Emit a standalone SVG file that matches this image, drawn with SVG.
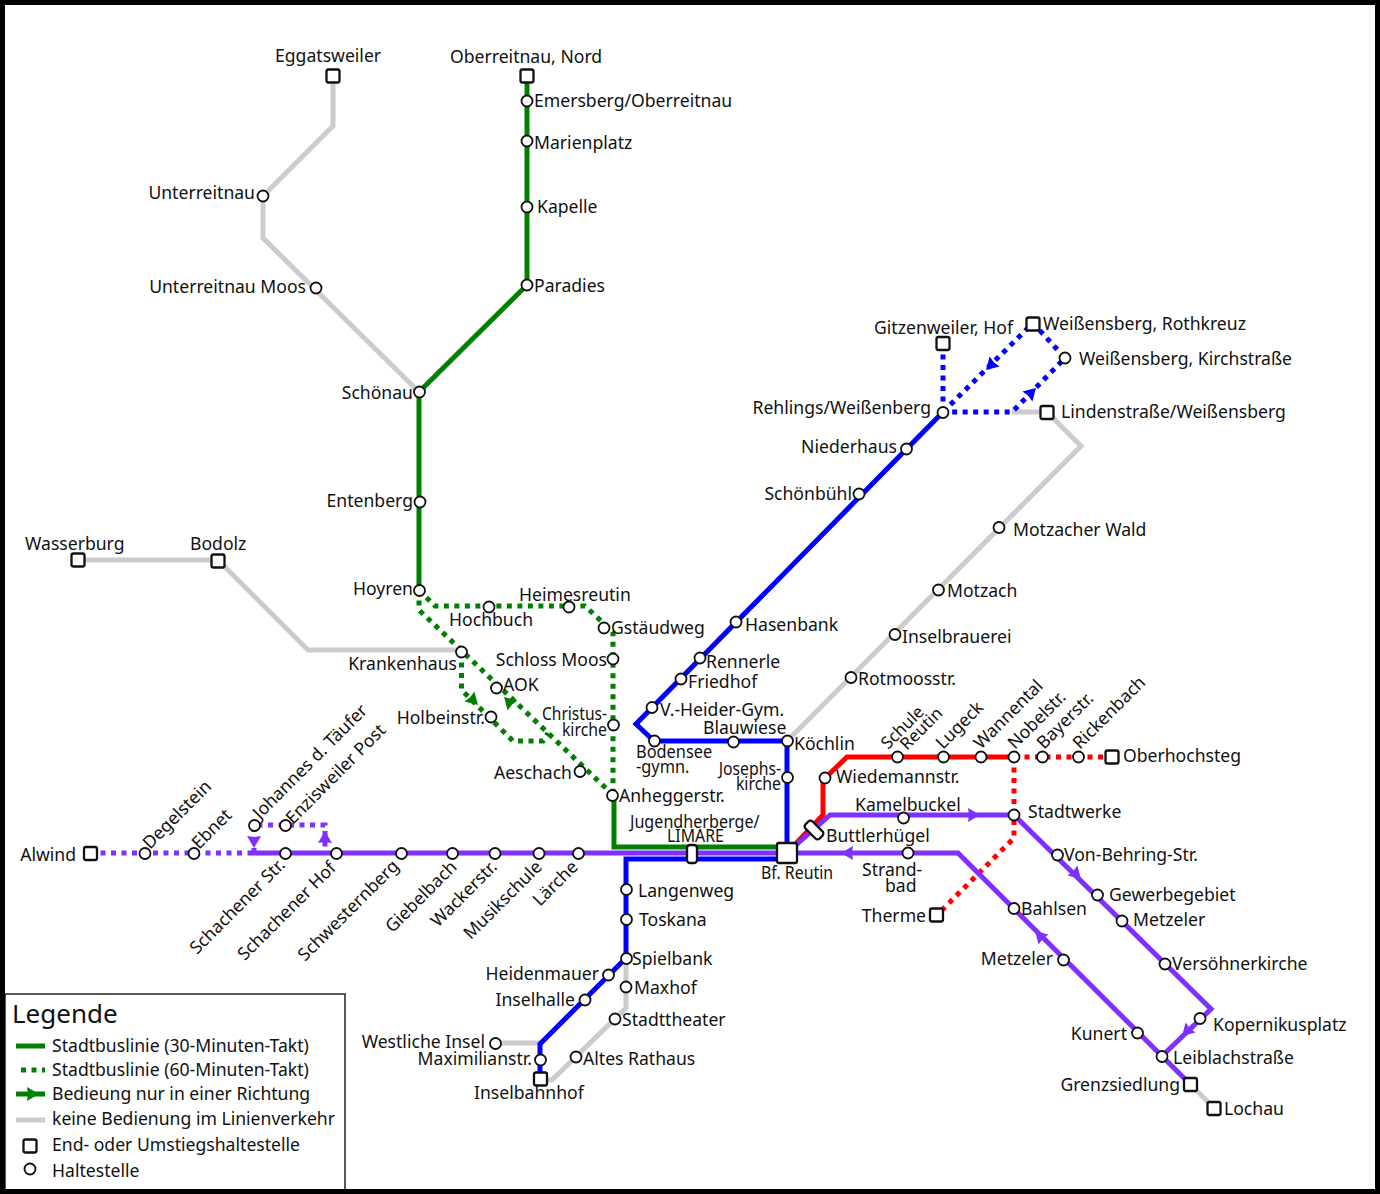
<svg xmlns="http://www.w3.org/2000/svg" width="1380" height="1194" viewBox="0 0 1380 1194">
<style>
text{font-family:"Noto Sans","Open Sans",sans-serif;font-size:17.6px;fill:#111}
text.t{font-size:17px}
.e{text-anchor:end}
.l{fill:none;stroke-width:5;stroke-linejoin:miter}
.d{stroke-dasharray:5 5.5}
.gr{stroke:#008000}.bl{stroke:#0000ff}.re{stroke:#ff0000}.pu{stroke:#7f2fff}.gy{stroke:#cccccc}
.s{fill:#fff;stroke:#111;stroke-width:1.8}
.q{fill:#fff;stroke:#111;stroke-width:2.3}
</style>
<defs>
<path id="a" d="M7 0L-5 -7L-4 0L-5 7Z"/>
<circle id="c" r="5.500" class="s"/>
<rect id="b" x="-6.500" y="-6.500" width="13" height="13" rx="2" class="q"/>
</defs>
<rect width="1380" height="1194" fill="#fff"/>
<g id="connectors">
<path class="l gy" d="M333 76V126L263 196V238L419 392"/>
<path class="l gy" d="M78 560H218L308 650H461"/>
<path class="l gy" d="M1012 412H1047L1081 446L787 741"/>
<path class="l gy" d="M626 958V1008L552 1080H540"/>
<path class="l gy" d="M495 1043H540"/>
<path class="l gy" d="M1190 1084L1214 1108"/>
<path class="l gr" d="M527 76V285L419 392V590"/>
<path class="l gr" d="M614 795V847H787"/>
<path class="l gr d" d="M419 590L435 606H585L613 632V795"/>
<path class="l gr d" d="M419 590V610L613 795"/>
<path class="l gr d" d="M461.500 652V690L513 741H543L548 733"/>
<path class="l bl" d="M787 853V741H654L636 724L943 412"/>
<path class="l bl" d="M787 859H626V958L540 1044V1079"/>
<path class="l bl d" d="M943 412V343"/>
<path class="l bl d" d="M943 412L1033 323L1065 358L1012 412H943"/>
<path class="l re" d="M787 853L823 815V780L847 757H1014"/>
<path class="l re d" d="M1014 757H1112"/>
<path class="l re d" d="M1014 757V838L937 915"/>
<path class="l pu" d="M252 853H958L1190 1084"/>
<path class="l pu" d="M787 853L830 815H1014L1211 1009L1162 1056"/>
<path class="l pu d" d="M90 853H252"/>
<path class="l pu d" d="M254 853V825H325V853"/>
<g id="arrows">
<use href="#a" fill="#008000" transform="translate(473 700) rotate(45)"/>
<use href="#a" fill="#008000" transform="translate(509 702) rotate(-135)"/>
<use href="#a" fill="#0000ff" transform="translate(991 365) rotate(135)"/>
<use href="#a" fill="#0000ff" transform="translate(1031 393) rotate(-45)"/>
<use href="#a" fill="#7f2fff" transform="translate(254 841) rotate(90)"/>
<use href="#a" fill="#7f2fff" transform="translate(325 838) rotate(-90)"/>
<use href="#a" fill="#7f2fff" transform="translate(973 815)"/>
<use href="#a" fill="#7f2fff" transform="translate(848 853) rotate(180)"/>
<use href="#a" fill="#7f2fff" transform="translate(1076 874) rotate(45)"/>
<use href="#a" fill="#7f2fff" transform="translate(1040 936) rotate(-135)"/>
<use href="#a" fill="#7f2fff" transform="translate(1187 1031) rotate(135)"/>
</g>
</g>
<g id="n-eggatsweiler"><use href="#b" x="333" y="76"/><text x="275" y="62">Eggatsweiler</text></g>
<g id="n-oberreitnau-nord"><use href="#b" x="527" y="76"/><text x="450" y="63">Oberreitnau, Nord</text></g>
<g id="n-emersberg"><use href="#c" x="527" y="101"/><text x="534" y="107">Emersberg/Oberreitnau</text></g>
<g id="n-marienplatz"><use href="#c" x="527" y="141"/><text x="534" y="149">Marienplatz</text></g>
<g id="n-kapelle"><use href="#c" x="527" y="207"/><text x="537" y="213">Kapelle</text></g>
<g id="n-paradies"><use href="#c" x="527" y="285"/><text x="534" y="292">Paradies</text></g>
<g id="n-unterreitnau"><use href="#c" x="263" y="196"/><text class="e" x="255" y="199">Unterreitnau</text></g>
<g id="n-unterreitnau-moos"><use href="#c" x="316" y="288"/><text class="e" x="306" y="293">Unterreitnau Moos</text></g>
<g id="n-schoenau"><use href="#c" x="419.500" y="392"/><text class="e" x="413" y="399">Schönau</text></g>
<g id="n-entenberg"><use href="#c" x="420" y="502"/><text class="e" x="413" y="507">Entenberg</text></g>
<g id="n-hoyren"><use href="#c" x="419.500" y="590.500"/><text class="e" x="413" y="595">Hoyren</text></g>
<g id="n-wasserburg"><use href="#b" x="78" y="560"/><text x="25" y="550">Wasserburg</text></g>
<g id="n-bodolz"><use href="#b" x="218" y="561"/><text x="190" y="550">Bodolz</text></g>
<g id="n-krankenhaus"><use href="#c" x="461.500" y="652"/><text class="e" x="457" y="670">Krankenhaus</text></g>
<g id="n-hochbuch"><use href="#c" x="489" y="607"/><text x="449" y="626">Hochbuch</text></g>
<g id="n-heimesreutin"><use href="#c" x="569" y="607"/><text x="519" y="601">Heimesreutin</text></g>
<g id="n-gstaeudweg"><use href="#c" x="604" y="628"/><text x="611" y="634">Gstäudweg</text></g>
<g id="n-schloss-moos"><use href="#c" x="613" y="659"/><text class="e" x="607" y="666">Schloss Moos</text></g>
<g id="n-aok"><use href="#c" x="496.500" y="688"/><text x="503" y="691">AOK</text></g>
<g id="n-holbeinstr"><use href="#c" x="491" y="717"/><text class="e" x="485" y="724">Holbeinstr.</text></g>
<g id="n-christuskirche"><use href="#c" x="613.500" y="725"/><text class="e" transform="translate(607 720) scale(.885 1)">Christus-</text><text class="e" transform="translate(607 736) scale(.9 1)">kirche</text></g>
<g id="n-aeschach"><use href="#c" x="580" y="771.500"/><text class="e" x="572" y="779">Aeschach</text></g>
<g id="n-anheggerstr"><use href="#c" x="612.500" y="795.500"/><text x="619" y="802">Anheggerstr.</text></g>
<g id="n-heider"><use href="#c" x="652" y="707.500"/><text x="660" y="716">V.-Heider-Gym.</text></g>
<g id="n-bodensee"><use href="#c" x="654.500" y="741"/><text transform="translate(636 758) scale(.93 1)">Bodensee</text><text transform="translate(636 773) scale(.93 1)">-gymn.</text></g>
<g id="n-blauwiese"><use href="#c" x="733.500" y="742"/><text x="703" y="734">Blauwiese</text></g>
<g id="n-koechlin"><use href="#c" x="787.500" y="741"/><text x="794" y="750">Köchlin</text></g>
<g id="n-josephskirche"><use href="#c" x="787.500" y="777.500"/><text class="e" transform="translate(781 775) scale(.895 1)">Josephs-</text><text class="e" transform="translate(781 790) scale(.9 1)">kirche</text></g>
<g id="n-hasenbank"><use href="#c" x="736" y="622"/><text x="745" y="631">Hasenbank</text></g>
<g id="n-rennerle"><use href="#c" x="700" y="658"/><text x="706" y="668">Rennerle</text></g>
<g id="n-friedhof"><use href="#c" x="681" y="679"/><text x="688" y="688">Friedhof</text></g>
<g id="n-schoenbuehl"><use href="#c" x="859" y="494"/><text class="e" x="852" y="500">Schönbühl</text></g>
<g id="n-niederhaus"><use href="#c" x="906.500" y="449"/><text class="e" x="897" y="453">Niederhaus</text></g>
<g id="n-rehlings"><use href="#c" x="943" y="412.500"/><text class="e" x="931" y="414">Rehlings/Weißenberg</text></g>
<g id="n-gitzenweiler"><use href="#b" x="943" y="343.500"/><text class="e" x="1013" y="334">Gitzenweiler, Hof</text></g>
<g id="n-rothkreuz"><use href="#b" x="1033" y="324"/><text x="1043" y="330">Weißensberg, Rothkreuz</text></g>
<g id="n-kirchstrasse"><use href="#c" x="1065" y="358"/><text x="1079" y="365">Weißensberg, Kirchstraße</text></g>
<g id="n-lindenstrasse"><use href="#b" x="1047" y="412.500"/><text x="1061" y="418">Lindenstraße/Weißensberg</text></g>
<g id="n-motzacher-wald"><use href="#c" x="999" y="527.500"/><text x="1013" y="536">Motzacher Wald</text></g>
<g id="n-motzach"><use href="#c" x="938.500" y="590"/><text x="947" y="597">Motzach</text></g>
<g id="n-inselbrauerei"><use href="#c" x="895" y="634.500"/><text x="902" y="643">Inselbrauerei</text></g>
<g id="n-rotmoosstr"><use href="#c" x="851" y="677.500"/><text x="858" y="685">Rotmoosstr.</text></g>
<g id="n-wiedemannstr"><use href="#c" x="825" y="778"/><text x="836" y="783">Wiedemannstr.</text></g>
<g id="n-schule-reutin"><use href="#c" x="897.500" y="757"/><text class="t" transform="translate(888 750) rotate(-45)">Schule</text><text class="t" transform="translate(907 751) rotate(-45)">Reutin</text></g>
<g id="n-lugeck"><use href="#c" x="943.500" y="757"/><text transform="translate(943 750) rotate(-45)">Lugeck</text></g>
<g id="n-wannental"><use href="#c" x="981" y="757"/><text transform="translate(981 750) rotate(-45)">Wannental</text></g>
<g id="n-nobelstr"><use href="#c" x="1014" y="757"/><text transform="translate(1015 750) rotate(-45)">Nobelstr.</text></g>
<g id="n-bayerstr"><use href="#c" x="1042.500" y="757"/><text transform="translate(1044 750) rotate(-45)">Bayerstr.</text></g>
<g id="n-rickenbach"><use href="#c" x="1078.500" y="757"/><text transform="translate(1080 750) rotate(-45)">Rickenbach</text></g>
<g id="n-oberhochsteg"><use href="#b" x="1112" y="757"/><text x="1123" y="762">Oberhochsteg</text></g>
<g id="n-kamelbuckel"><use href="#c" x="903.500" y="818"/><text x="855" y="811">Kamelbuckel</text></g>
<g id="n-stadtwerke"><use href="#c" x="1014" y="815"/><text x="1028" y="818">Stadtwerke</text></g>
<g id="n-buttlerhuegel"><rect x="-10" y="-5" width="20" height="10" rx="3" class="q" transform="translate(814 830) rotate(45)"/><text x="826" y="842">Buttlerhügel</text></g>
<g id="n-von-behring"><use href="#c" x="1057.500" y="855"/><text x="1064" y="861">Von-Behring-Str.</text></g>
<g id="n-gewerbegebiet"><use href="#c" x="1097.500" y="895"/><text x="1109" y="901">Gewerbegebiet</text></g>
<g id="n-metzeler-o"><use href="#c" x="1122" y="921"/><text x="1133" y="926">Metzeler</text></g>
<g id="n-versoehnerkirche"><use href="#c" x="1165" y="964"/><text x="1172" y="970">Versöhnerkirche</text></g>
<g id="n-kopernikusplatz"><use href="#c" x="1200" y="1018.500"/><text x="1213" y="1031">Kopernikusplatz</text></g>
<g id="n-leiblachstr"><use href="#c" x="1162" y="1056.500"/><text x="1173" y="1064">Leiblachstraße</text></g>
<g id="n-kunert"><use href="#c" x="1137.500" y="1033"/><text class="e" x="1127" y="1040">Kunert</text></g>
<g id="n-metzeler-w"><use href="#c" x="1063.500" y="960"/><text class="e" x="1053" y="965">Metzeler</text></g>
<g id="n-bahlsen"><use href="#c" x="1014" y="908.500"/><text x="1021" y="915">Bahlsen</text></g>
<g id="n-grenzsiedlung"><use href="#b" x="1190.500" y="1084.500"/><text class="e" x="1180" y="1091">Grenzsiedlung</text></g>
<g id="n-lochau"><use href="#b" x="1214" y="1108.500"/><text x="1224" y="1115">Lochau</text></g>
<g id="n-therme"><use href="#b" x="936.500" y="915"/><text class="e" x="926" y="922">Therme</text></g>
<g id="n-strandbad"><use href="#c" x="908" y="853"/><text x="862" y="876">Strand-</text><text x="885" y="892">bad</text></g>
<g id="n-reutin"><rect x="777" y="843" width="20" height="20" rx="2" class="q"/><text transform="translate(761 879) scale(.903 1)">Bf. Reutin</text></g>
<g id="n-limare"><rect x="687" y="845" width="10" height="18" rx="3" class="q"/><text transform="translate(630 828) scale(.917 1)">Jugendherberge/</text><text transform="translate(667 842) scale(.9 1)">LIMARE</text></g>
<g id="n-alwind"><use href="#b" x="90.500" y="853.500"/><text class="e" x="76" y="861">Alwind</text></g>
<g id="n-degelstein"><use href="#c" x="145" y="853.500"/><text transform="translate(150 850) rotate(-45)">Degelstein</text></g>
<g id="n-ebnet"><use href="#c" x="194" y="853.500"/><text transform="translate(199 850) rotate(-45)">Ebnet</text></g>
<g id="n-johannes"><use href="#c" x="254.500" y="825.500"/><text transform="translate(260 820) rotate(-45)">Johannes d. Täufer</text></g>
<g id="n-enzisweiler"><use href="#c" x="285.500" y="825.500"/><text transform="translate(293 825) rotate(-45)">Enzisweiler Post</text></g>
<g id="n-schachener-str"><use href="#c" x="285.500" y="853.500"/><text class="e" transform="translate(286 866) rotate(-45)">Schachener Str.</text></g>
<g id="n-schachener-hof"><use href="#c" x="336.500" y="853.500"/><text class="e" transform="translate(337 869) rotate(-45)">Schachener Hof</text></g>
<g id="n-schwesternberg"><use href="#c" x="401.500" y="853.500"/><text class="e" transform="translate(400 867) rotate(-45)">Schwesternberg</text></g>
<g id="n-giebelbach"><use href="#c" x="452.500" y="853.500"/><text class="e" transform="translate(458 868) rotate(-45)">Giebelbach</text></g>
<g id="n-wackerstr"><use href="#c" x="495" y="853.500"/><text class="e" transform="translate(498 868) rotate(-45)">Wackerstr.</text></g>
<g id="n-musikschule"><use href="#c" x="539" y="853.500"/><text class="e" transform="translate(543 868) rotate(-45)">Musikschule</text></g>
<g id="n-laerche"><use href="#c" x="578.500" y="853.500"/><text class="e" transform="translate(579 868) rotate(-45)">Lärche</text></g>
<g id="n-langenweg"><use href="#c" x="626.500" y="889.500"/><text x="638" y="897">Langenweg</text></g>
<g id="n-toskana"><use href="#c" x="626.500" y="919.500"/><text x="639" y="926">Toskana</text></g>
<g id="n-spielbank"><use href="#c" x="626.500" y="958.500"/><text x="632" y="965">Spielbank</text></g>
<g id="n-maxhof"><use href="#c" x="626" y="987"/><text x="634" y="994">Maxhof</text></g>
<g id="n-stadttheater"><use href="#c" x="615" y="1019"/><text x="622" y="1026">Stadttheater</text></g>
<g id="n-altes-rathaus"><use href="#c" x="576" y="1057"/><text x="583" y="1065">Altes Rathaus</text></g>
<g id="n-heidenmauer"><use href="#c" x="608.500" y="975"/><text class="e" x="599" y="980">Heidenmauer</text></g>
<g id="n-inselhalle"><use href="#c" x="585" y="1000"/><text class="e" x="575" y="1006">Inselhalle</text></g>
<g id="n-westliche-insel"><use href="#c" x="495.500" y="1043.500"/><text class="e" x="485" y="1048">Westliche Insel</text></g>
<g id="n-maximilianstr"><use href="#c" x="540.500" y="1060"/><text class="e" x="532" y="1065">Maximilianstr.</text></g>
<g id="n-inselbahnhof"><use href="#b" x="540.500" y="1079"/><text x="474" y="1099">Inselbahnhof</text></g>
<g id="legend">
<rect x="5" y="994" width="340" height="196" fill="#fff" stroke="#222" stroke-width="1.500"/>
<text x="12" y="1023" style="font-size:26px">Legende</text>
<path class="l gr" d="M16 1046H45"/>
<path class="l gr d" d="M21 1070H45"/>
<path class="l gr" d="M16 1094H45"/>
<use href="#a" fill="#008000" transform="translate(32 1094)"/>
<path class="l gy" d="M16 1120H45"/>
<use href="#b" x="30" y="1146"/>
<use href="#c" x="30" y="1169"/>
<text x="52" y="1052">Stadtbuslinie (30-Minuten-Takt)</text>
<text x="52" y="1076">Stadtbuslinie (60-Minuten-Takt)</text>
<text x="52" y="1100">Bedieung nur in einer Richtung</text>
<text x="52" y="1125">keine Bedienung im Linienverkehr</text>
<text x="52" y="1151">End- oder Umstiegshaltestelle</text>
<text x="52" y="1177">Haltestelle</text>
</g>
<rect x="2.500" y="2.500" width="1375" height="1189" fill="none" stroke="#000" stroke-width="5"/>
</svg>
